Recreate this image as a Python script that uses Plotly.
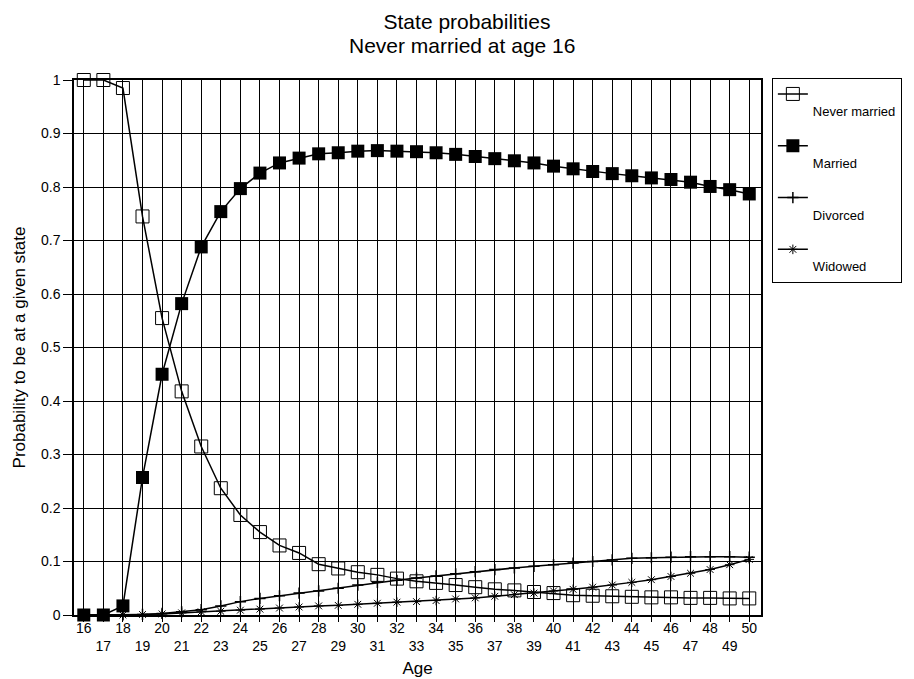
import plotly.graph_objects as go

ages = list(range(16, 51))

never_married = [1.0, 1.0, 0.985, 0.745, 0.555, 0.418, 0.315, 0.237, 0.187, 0.155,
                 0.13, 0.116, 0.095, 0.087, 0.08, 0.075, 0.068, 0.063, 0.06, 0.056,
                 0.052, 0.048, 0.046, 0.043, 0.041, 0.037, 0.036, 0.035, 0.034, 0.033,
                 0.033, 0.032, 0.032, 0.031, 0.031]

married = [0.0, 0.0, 0.017, 0.257, 0.45, 0.582, 0.688, 0.754, 0.797, 0.826,
           0.845, 0.854, 0.862, 0.864, 0.867, 0.868, 0.867, 0.866, 0.864, 0.861,
           0.857, 0.853, 0.849, 0.845, 0.839, 0.834, 0.829, 0.825, 0.821, 0.817,
           0.814, 0.809, 0.801, 0.795, 0.787]

divorced = [0.0, 0.0, 0.0, 0.001, 0.003, 0.006, 0.01, 0.017, 0.025, 0.031,
            0.036, 0.041, 0.045, 0.05, 0.056, 0.061, 0.065, 0.069, 0.073, 0.077,
            0.081, 0.085, 0.088, 0.091, 0.094, 0.097, 0.1, 0.103, 0.106, 0.107,
            0.108, 0.109, 0.109, 0.109, 0.108]

widowed = [0.0, 0.0, 0.0, 0.001, 0.002, 0.004, 0.006, 0.007, 0.009, 0.011,
           0.013, 0.015, 0.017, 0.018, 0.02, 0.022, 0.024, 0.025, 0.027, 0.03,
           0.032, 0.035, 0.038, 0.041, 0.045, 0.048, 0.052, 0.056, 0.061, 0.066,
           0.072, 0.078, 0.085, 0.094, 0.104]

x_tick_text = [str(a) if a % 2 == 0 else "<br>" + str(a) for a in ages]

title_line1 = "State probabilities"
title_line2 = "Never married at age 16"

FONT = "Arial, Liberation Sans, Helvetica, sans-serif"

# page body adds an 8px offset; figure is sized so it fits the window
W, H = 906, 671
L, R, T, B = 66, 145, 72, 64
PW, PH = W - L - R, H - T - B

series = [
    ("Never married", never_married, dict(symbol="square-open", size=13, color="black",
                                          line=dict(color="black", width=1))),
    ("Married", married, dict(symbol="square", size=13, color="black")),
    ("Divorced", divorced, dict(symbol="cross-thin-open", size=8,
                                line=dict(color="black", width=1.5))),
    ("Widowed", widowed, dict(symbol="asterisk-open", size=8,
                              line=dict(color="black", width=1))),
]

fig = go.Figure()
for name, vals, mk in series:
    fig.add_trace(go.Scatter(
        x=ages, y=vals, name=" <br>" + name, legendgroup=name,
        mode="lines+markers",
        line=dict(color="black", width=1.5), marker=mk, cliponaxis=False,
    ))

fig.update_layout(
    width=W, height=H,
    margin=dict(l=L, r=R, t=T, b=B),
    paper_bgcolor="white", plot_bgcolor="white",
    font=dict(family=FONT, color="black", size=14),
    title=dict(text=title_line1,
               x=459 / W, xref="container", xanchor="center",
               y=1 - 14 / H, yref="container", yanchor="middle",
               font=dict(size=21, family=FONT)),
    annotations=[dict(text=title_line2, xref="paper", yref="paper",
                      x=(459 - L) / PW, y=1 + (T - 37) / PH,
                      xanchor="center", yanchor="middle", showarrow=False,
                      font=dict(size=21, family=FONT))],
    showlegend=True,
    legend=dict(x=(772 - L) / PW, xanchor="left", y=1 + 2 / PH, yanchor="top",
                bordercolor="black", borderwidth=1, bgcolor="white",
                valign="top", font=dict(size=13, family=FONT),
                itemwidth=30, tracegroupgap=15),
)

fig.update_xaxes(
    range=[15.5, 50.6], tickmode="array", tickvals=ages, ticktext=x_tick_text,
    showgrid=True, gridcolor="black", gridwidth=1.4,
    showline=True, linecolor="black", linewidth=1.5, mirror=True,
    ticks="outside", ticklen=5, tickcolor="black", tickangle=0,
    tickfont=dict(size=14), zeroline=False, ticklabelstandoff=-6,
    automargin=False,
    title=dict(text="Age", font=dict(size=17), standoff=9),
)
fig.update_yaxes(
    range=[0, 1], tickmode="linear", tick0=0, dtick=0.1,
    showgrid=True, gridcolor="black", gridwidth=1.4,
    showline=True, linecolor="black", linewidth=1.5, mirror=True,
    ticks="outside", ticklen=9, tickcolor="black",
    tickfont=dict(size=14), zeroline=False, automargin=False,
    title=dict(text="Probability to be at a given state", font=dict(size=17), standoff=11),
)

fig.write_html("out.html")
